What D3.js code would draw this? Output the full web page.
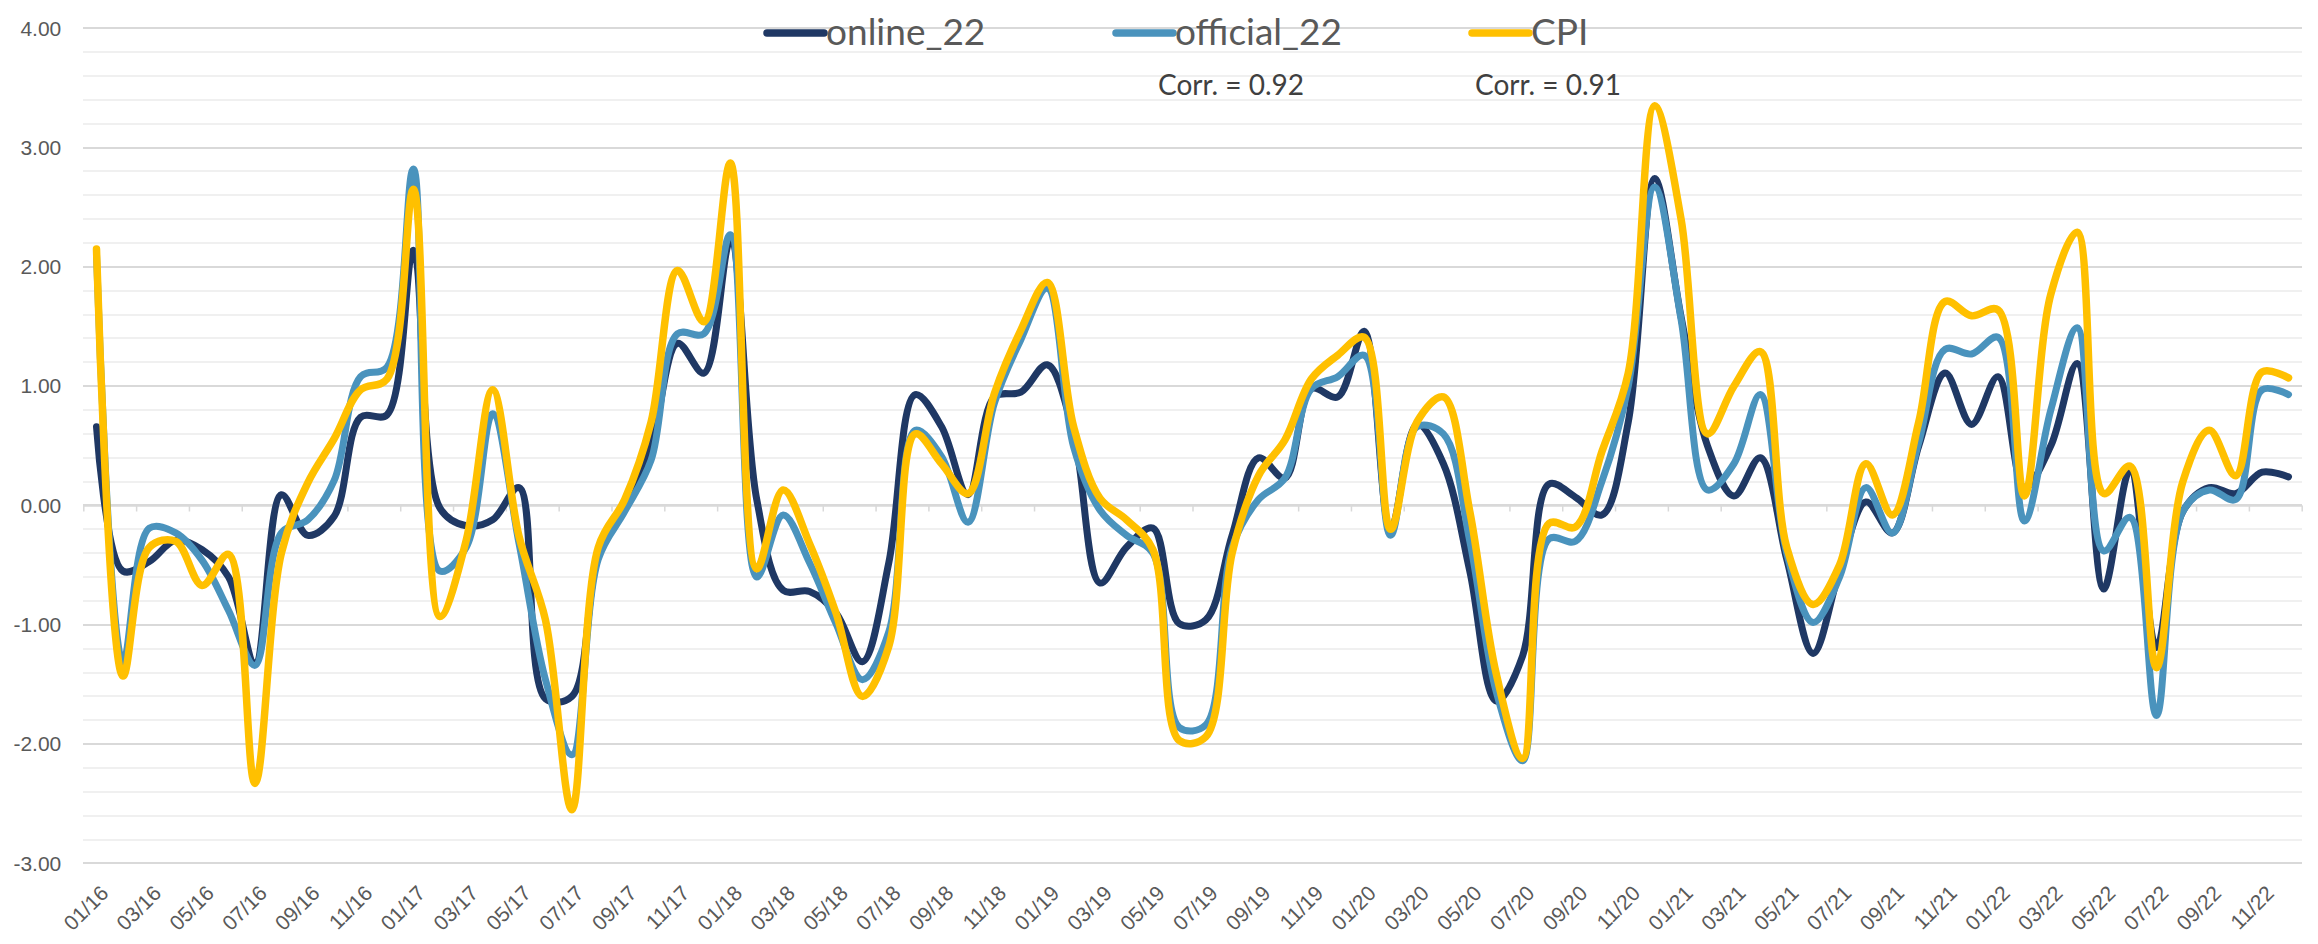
<!DOCTYPE html>
<html>
<head>
<meta charset="utf-8">
<script src="https://cdnjs.cloudflare.com/ajax/libs/d3/7.8.5/d3.min.js"></script>
<style>
  body { margin: 0; background: #fff; }
  svg { display: block; font-family: Lato, "Open Sans", sans-serif; }
  .grid line { shape-rendering: crispEdges; }
</style>
</head>
<body>
<div id="chart"></div>
<script>
/* ================= Data ================= */

const months = [
  "01/16","02/16","03/16","04/16","05/16","06/16","07/16","08/16","09/16","10/16","11/16","12/16",
  "01/17","02/17","03/17","04/17","05/17","06/17","07/17","08/17","09/17","10/17","11/17","12/17",
  "01/18","02/18","03/18","04/18","05/18","06/18","07/18","08/18","09/18","10/18","11/18","12/18",
  "01/19","02/19","03/19","04/19","05/19","06/19","07/19","08/19","09/19","10/19","11/19","12/19",
  "01/20","02/20","03/20","04/20","05/20","06/20","07/20","08/20","09/20","10/20","11/20","12/20",
  "01/21","02/21","03/21","04/21","05/21","06/21","07/21","08/21","09/21","10/21","11/21","12/21",
  "01/22","02/22","03/22","04/22","05/22","06/22","07/22","08/22","09/22","10/22","11/22","12/22"
];

const online22 = [
  0.66, -0.55, -0.47, -0.29, -0.37, -0.60, -1.32, 0.09, -0.25, -0.09, 0.74, 0.76,
  2.14, -0.02, -0.17, -0.12, 0.15, -1.62, -1.60, -0.40, 0.03, 0.50, 1.36, 1.11,
  2.22, 0.05, -0.71, -0.72, -0.90, -1.31, -0.48, 0.93, 0.66, 0.09, 0.91, 0.95,
  1.18, 0.60, -0.65, -0.35, -0.19, -0.99, -0.96, -0.25, 0.40, 0.23, 0.98, 0.91,
  1.46, -0.20, 0.68, 0.35, -0.55, -1.64, -1.26, 0.18, 0.07, -0.08, 0.70, 2.74,
  1.58, 0.50, 0.08, 0.40, -0.45, -1.24, -0.55, 0.03, -0.23, 0.50, 1.11, 0.68,
  1.08, 0.15, 0.50, 1.19, -0.70, 0.30, -1.19, -0.05, 0.15, 0.10, 0.28, 0.24
];

const official22 = [
  2.10, -1.31, -0.19, -0.23, -0.46, -0.88, -1.34, -0.23, -0.12, 0.21, 1.08, 1.16,
  2.82, -0.55, -0.35, 0.77, -0.32, -1.46, -2.09, -0.45, -0.05, 0.38, 1.44, 1.44,
  2.27, -0.60, -0.08, -0.48, -0.99, -1.46, -1.06, 0.63, 0.41, -0.14, 0.86, 1.39,
  1.82, 0.49, -0.04, -0.25, -0.40, -1.86, -1.84, -0.35, 0.05, 0.23, 0.98, 1.08,
  1.26, -0.25, 0.66, 0.60, -0.30, -1.56, -2.14, -0.28, -0.30, 0.20, 1.00, 2.67,
  1.56, 0.13, 0.35, 0.93, -0.40, -0.98, -0.60, 0.15, -0.23, 0.53, 1.31, 1.27,
  1.41, -0.13, 0.80, 1.49, -0.38, -0.10, -1.76, -0.05, 0.13, 0.05, 0.97, 0.93
];

const cpi = [
  2.15, -1.43, -0.35, -0.30, -0.67, -0.41, -2.33, -0.40, 0.19, 0.56, 0.97, 1.06,
  2.65, -0.93, -0.29, 0.97, -0.26, -0.96, -2.55, -0.35, 0.05, 0.70, 1.97, 1.54,
  2.87, -0.53, 0.13, -0.32, -0.90, -1.60, -1.18, 0.60, 0.35, 0.10, 0.94, 1.47,
  1.87, 0.66, 0.06, -0.12, -0.37, -1.97, -1.94, -0.40, 0.25, 0.55, 1.06, 1.26,
  1.41, -0.20, 0.70, 0.91, -0.05, -1.41, -2.12, -0.15, -0.18, 0.45, 1.11, 3.35,
  2.40, 0.60, 1.00, 1.29, -0.35, -0.83, -0.50, 0.35, -0.08, 0.70, 1.71, 1.59,
  1.64, 0.08, 1.77, 2.29, 0.10, 0.33, -1.36, 0.20, 0.63, 0.25, 1.12, 1.07
];

const seriesNames = ["online_22", "official_22", "CPI"];
const seriesColors = ["#1f3864", "#4a93bd", "#ffc000"];
const corrLabels = [null, "Corr. = 0.92", "Corr. = 0.91"];
const yTicks = [-3, -2, -1, 0, 1, 2, 3, 4];

/* ================= Layout ================= */

const W = 2318, H = 944;
const plot = { left: 83.3, right: 2301.7, top: 28.3, bottom: 863.4 };

const svg = d3.select("#chart").append("svg")
  .attr("width", W)
  .attr("height", H);

svg.append("rect").attr("width", W).attr("height", H).attr("fill", "#fff");

/* ===== Scales ===== */

const x = d3.scaleBand()
  .domain(months)
  .range([plot.left, plot.right])
  .padding(0);

const xIdx = d3.scaleLinear()
  .domain([0, months.length])
  .range([plot.left, plot.right]);

const y = d3.scaleLinear()
  .domain([-3, 4])
  .range([plot.bottom, plot.top]);

/* ===== Gridlines ===== */

const minor = d3.range(-3, 4.001, 0.2).map(v => +v.toFixed(1));

svg.append("g")
  .attr("class", "grid")
  .selectAll("line")
  .data(minor.filter(v => !yTicks.includes(v)))
  .enter().append("line")
  .attr("x1", plot.left).attr("x2", plot.right)
  .attr("y1", d => Math.round(y(d))).attr("y2", d => Math.round(y(d)))
  .attr("stroke", "#f0f0f0")
  .attr("stroke-width", 1.5);

svg.append("g")
  .attr("class", "grid")
  .selectAll("line")
  .data(yTicks)
  .enter().append("line")
  .attr("x1", plot.left).attr("x2", plot.right)
  .attr("y1", d => Math.round(y(d))).attr("y2", d => Math.round(y(d)))
  .attr("stroke", "#d9d9d9")
  .attr("stroke-width", 1.5);

/* ===== Axes ===== */

const yAxis = svg.append("g")
  .attr("transform", `translate(${plot.left},0)`)
  .call(d3.axisLeft(y).tickValues(yTicks).tickFormat(d => d.toFixed(2)).tickSize(0).tickPadding(22));
yAxis.select(".domain").remove();
yAxis.selectAll("text")
  .attr("fill", "#595959")
  .style("font-size", "21px");

// tick marks sit on the zero line
const zeroAxis = svg.append("g")
  .attr("transform", `translate(0,${y(0)})`)
  .call(d3.axisBottom(xIdx).tickValues(d3.range(0, months.length + 1, 2)).tickFormat("").tickSize(6).tickSizeOuter(0));
zeroAxis.select(".domain").attr("stroke", "#d9d9d9").attr("stroke-width", 1.5);
zeroAxis.selectAll(".tick line").attr("stroke", "#d9d9d9").attr("stroke-width", 1.5);

// category labels below the plot
const xAxis = svg.append("g")
  .attr("transform", `translate(0,${plot.bottom})`)
  .call(d3.axisBottom(x).tickValues(months.filter((d, i) => i % 2 === 0)).tickSize(0));
xAxis.select(".domain").remove();
xAxis.selectAll("text")
  .attr("fill", "#595959")
  .style("font-size", "21px")
  .style("text-anchor", "end")
  .attr("y", 0)
  .attr("dy", "0.35em")
  .attr("transform", "translate(8,26) rotate(-45)");

/* ===== Lines ===== */

const line = d3.line()
  .x((d, i) => x(months[i]) + x.bandwidth() / 2)
  .y(d => y(d))
  .curve(d3.curveCatmullRom.alpha(0.5));

[online22, official22, cpi].forEach((vals, k) => {
  svg.append("path")
    .datum(vals)
    .attr("fill", "none")
    .attr("stroke", seriesColors[k])
    .attr("stroke-width", k === 2 ? 7.5 : 7)
    .attr("stroke-linejoin", "round")
    .attr("stroke-linecap", "round")
    .attr("d", line);
});

/* ===== Legend ===== */

const legendX = [767, 1116, 1472];
const corrDx = [0, 42, 3];

const legend = svg.append("g");
seriesNames.forEach((name, k) => {
  const g = legend.append("g").attr("transform", `translate(${legendX[k]},33)`);
  g.append("line")
    .attr("x1", 0).attr("x2", 57)
    .attr("stroke", seriesColors[k])
    .attr("stroke-width", 7.5)
    .attr("stroke-linecap", "round");
  g.append("text")
    .attr("x", 59)
    .attr("y", 12)
    .attr("fill", "#595959")
    .style("font-size", "37px")
    .text(name);
  if (corrLabels[k]) {
    g.append("text")
      .attr("x", corrDx[k])
      .attr("y", 62)
      .attr("fill", "#404040")
      .style("font-size", "28px")
      .text(corrLabels[k]);
  }
});
</script>
</body>
</html>
